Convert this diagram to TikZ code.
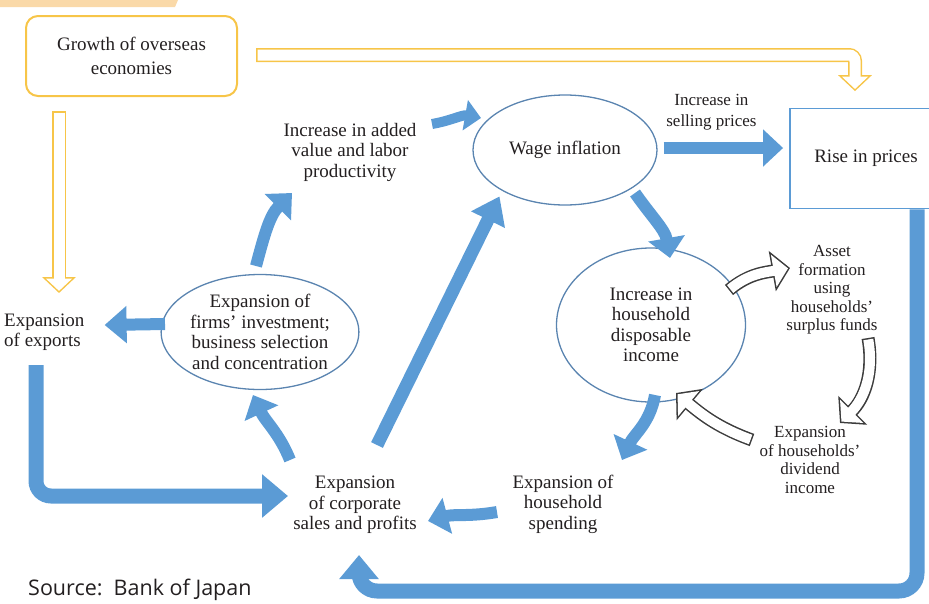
\documentclass[tikz,border=0pt]{standalone}
\usepackage{fontspec}
\setmainfont{Liberation Serif}
\newfontfamily\srcfont{Open Sans}
\usetikzlibrary{shapes.geometric,arrows.meta,calc}
\definecolor{bojBlue}{HTML}{5B9BD5}
\definecolor{bojLine}{HTML}{5A84B0}
\definecolor{bojGold}{HTML}{F7C548}
\definecolor{bojGrey}{HTML}{3C3C3C}
\definecolor{bojPeach}{HTML}{FAD9A8}
\definecolor{bojText}{HTML}{231F20}

\begin{document}
\begin{tikzpicture}[x=1pt, y=1pt,
    every node/.style={text=bojText},
    lbl/.style={align=center, inner sep=2pt, font=\fontsize{19}{20.5}\selectfont},
    small/.style={align=center, inner sep=2pt, font=\fontsize{17}{18.5}\selectfont},
    oval/.style={ellipse, draw=bojLine, line width=1.3pt, inner sep=0pt,
                 align=center, font=\fontsize{19}{20.5}\selectfont},
    barrow/.style={draw=bojBlue, line width=12pt, -{Triangle[length=20pt,width=36pt]}},
    bigarrow/.style={draw=bojBlue, line width=15pt, -{Triangle[length=26pt,width=42pt]}},
    hollowg/.style={draw=bojGrey, line width=13pt, -{Triangle[length=18pt,width=40pt]},
                    postaction={draw=white, line width=10pt, shorten <=1.5pt, shorten >=2pt,
                                -{Triangle[length=14.5pt,width=32pt]}}},
    hollowy/.style={draw=bojGold, line width=14pt, -{Triangle[length=16pt,width=33pt]},
                    postaction={draw=white, line width=11pt, shorten <=1.5pt, shorten >=2.1pt,
                                -{Triangle[length=12.4pt,width=25.6pt]}}},
  ]
  \useasboundingbox (0,0) rectangle (929,-603);
  % top strip
  \fill[bojPeach] (0,0) -- (178,0) -- (175,-7) -- (0,-7) -- cycle;

  % Boxes and ovals
  \node[draw=bojGold, line width=2pt, rounded corners=12pt, minimum width=211pt,
        minimum height=80pt, align=center, font=\fontsize{19}{24}\selectfont]
    (growth) at (131.5,-56) {Growth of overseas\\economies};
  \node[draw=bojBlue, line width=1.8pt, minimum width=152pt, minimum height=100pt, lbl]
    (rise) at (866,-158.5) {Rise in prices};
  \node[oval, minimum width=184pt, minimum height=110pt] (wage) at (565,-150) {Wage inflation};
  \node[oval, minimum width=189pt, minimum height=154pt] (income) at (651,-325)
    {Increase in\\household\\disposable\\income};
  \node[oval, minimum width=191pt, minimum height=115pt] (firms) at (260,-332)
    {Expansion of\\firms' investment;\\business selection\\and concentration};

  % Texts
  \node[lbl, align=left, anchor=west] (exports) at (2,-332) {Expansion\\of exports};
  \node[lbl] (added) at (350,-152) {Increase in added\\value and labor\\productivity};
  \node[lbl] (corp) at (355,-505) {Expansion\\of corporate\\sales and profits};
  \node[lbl] (spending) at (563,-504) {Expansion of\\household\\spending};
  \node[small] (asset) at (832,-290) {Asset\\formation\\using\\households'\\surplus funds};
  \node[small] (dividend) at (810,-460) {Expansion\\of households'\\dividend\\income};
  \node[anchor=west, inner sep=0pt, font=\srcfont\fontsize{21.5}{24}\selectfont]
    (src) at (28,-590) {Source:\ \ Bank of Japan};

  % Yellow arrows
  \draw[hollowy, rounded corners=6pt] ($(growth.east)+(18,1)$) -| ($(rise.north)+(-11,16.5)$);
  \draw[hollowy] ($(growth.south)+(-72.5,-14)$) -- ($(exports.west)+(57,39)$);

  % Blue arrows
  \draw[barrow] ($(wage.east)+(6,2)$) -- ($(rise.west)+(-6,10.5)$)
    node[pos=0.4, above=10pt, small, font=\fontsize{17}{21}\selectfont] (sell) {Increase in\\selling prices};
  \draw[barrow, line width=10pt, -{Triangle[length=16pt,width=30pt]}]
    ($(added)+(82,28)$) to[out=10, in=170] ($(wage)+(-84,32)$);
  \draw[barrow] ($(firms)+(-4,66)$) to[out=75, in=225] ($(added)+(-58,-41)$);
  \draw[barrow, -{Triangle[length=22pt,width=36pt]}] ($(firms)+(-95,8)$) -- ($(exports.east)+(18,7)$);
  \draw[bigarrow, rounded corners=15pt] ($(exports.west)+(34,-33)$) |- ($(corp)+(-67,9)$);
  \draw[bigarrow, -{Triangle[length=24pt,width=38pt]}, rounded corners=18pt]
    ($(rise.south)+(51,0)$) |- ($(corp)+(4,-86)$) -- ($(corp)+(4,-50)$);
  \draw[barrow] ($(corp)+(-65,45)$) to[out=112, in=-65] ($(firms)+(-7,-63)$);
  \draw[barrow, line width=13pt, -{Triangle[length=26pt,width=36pt]}]
    ($(corp)+(22,60)$) -- ($(wage.south west)+(0,-7)$);
  \draw[barrow] ($(wage)+(70,-43)$) to[out=-55, in=100] ($(income)+(19,67)$);
  \draw[barrow] ($(income)+(4,-70)$) to[out=-100, in=65] ($(spending)+(59,44)$);
  \draw[barrow] ($(spending)+(-66,-8)$) to[out=190, in=15] ($(corp)+(73,-16)$);

  % Grey hollow arrows
  \draw[hollowg] ($(income)+(78,35)$) to[out=40, in=190] ($(asset)+(-42,22)$);
  \draw[hollowg] ($(asset)+(36,-48)$) to[out=-80, in=45] ($(dividend)+(30,37)$);
  \draw[hollowg] ($(dividend)+(-58,20)$) to[out=160, in=-40] ($(income)+(25,-68)$);
\end{tikzpicture}
\end{document}
